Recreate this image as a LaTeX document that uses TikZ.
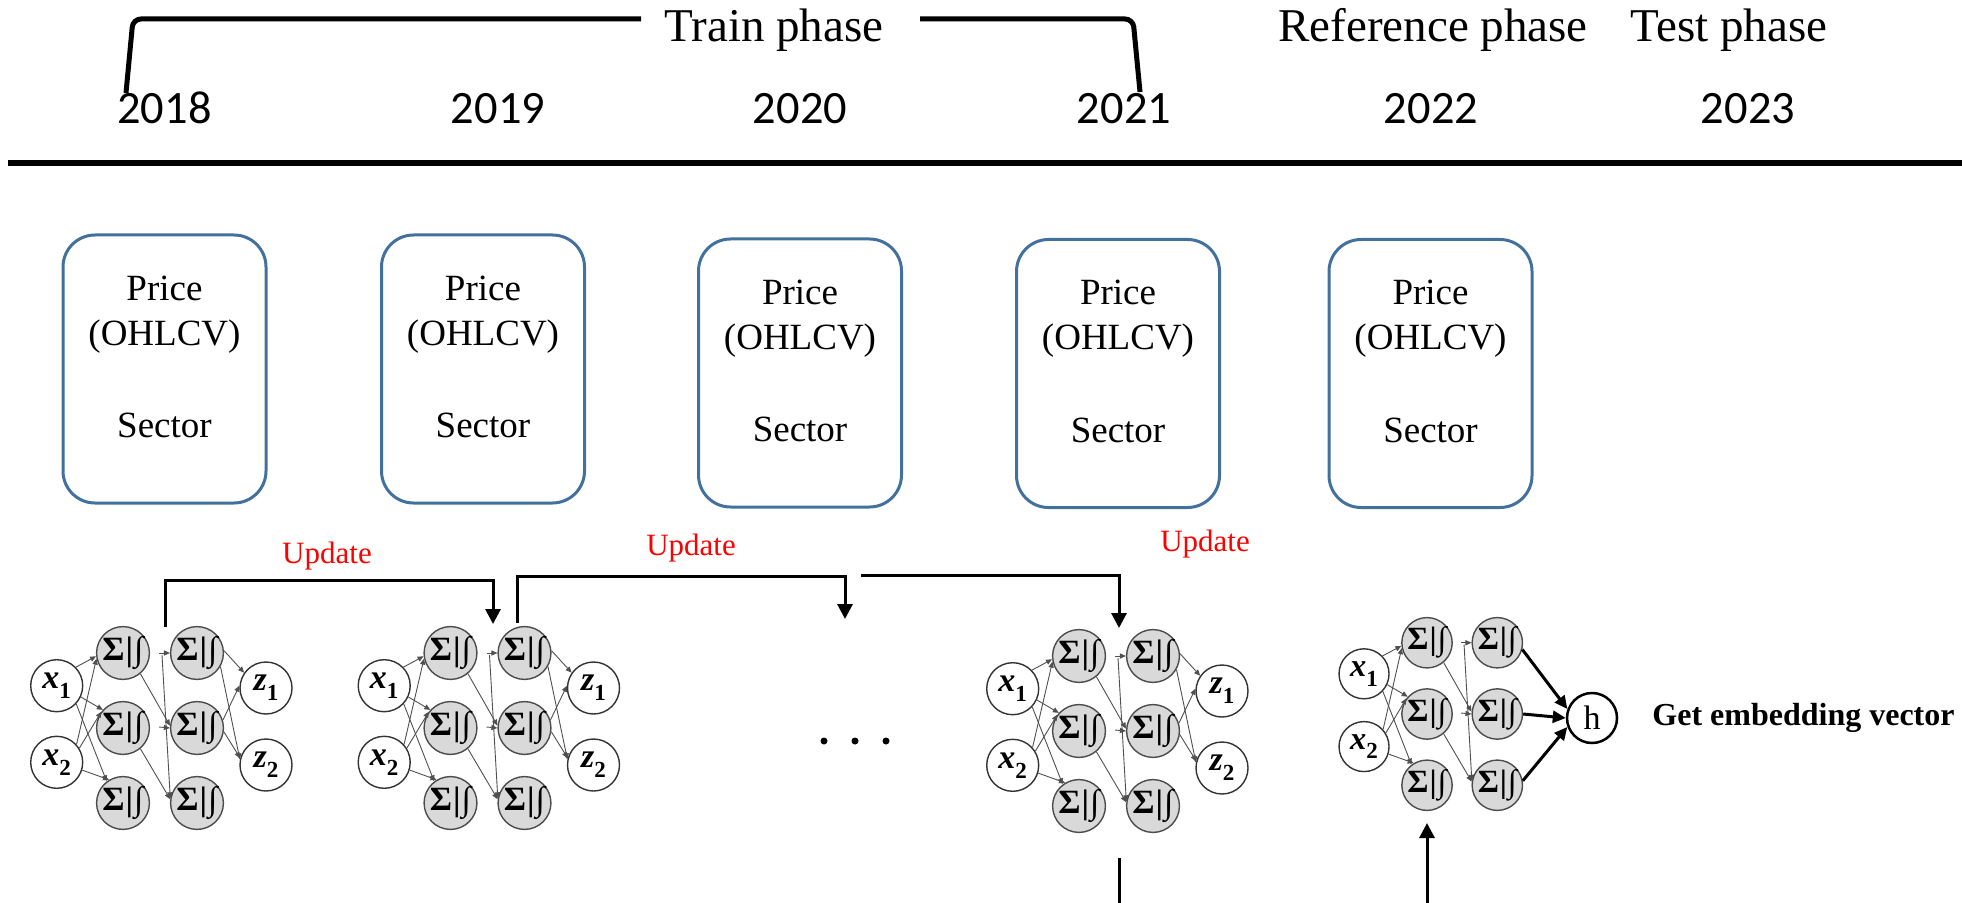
\documentclass[tikz,border=0pt]{standalone}
\usepackage{fontspec}
\setmainfont{Liberation Serif}
\newfontfamily\yearfont{Carlito}
\usetikzlibrary{arrows.meta,calc}
\definecolor{boxblue}{RGB}{65,113,156}
\definecolor{nodegray}{RGB}{217,217,217}
\definecolor{edgegray}{RGB}{80,80,80}
\newcommand\myfs[1]{\fontsize{#1}{#1}\selectfont}
\newcommand\sigint{\bfseries Σ\kern0.03em|\kern0.03em∫}
\newcommand\vlab[2]{\bfseries{\itshape #1}\raisebox{-0.3em}{\myfs{11.5}#2}}

% #1 prefix, #2 x, #3 y (centre of middle hidden node), #4 scale, #5 node style
\newcommand\mynet[5]{%
  \node[nn,#5] (#1x1) at ({#2-#4*66.3},{#3-#4*42.3}) {\vlab{x}{1}};
  \node[nn,#5] (#1x2) at ({#2-#4*66.3},{#3+#4*34.3}) {\vlab{x}{2}};
  \node[hn,#5] (#1a1) at (#2,{#3-#4*75}) {\sigint};
  \node[hn,#5] (#1a2) at (#2,#3) {\sigint};
  \node[hn,#5] (#1a3) at (#2,{#3+#4*75}) {\sigint};
  \node[hn,#5] (#1b1) at ({#2+#4*74},{#3-#4*75}) {\sigint};
  \node[hn,#5] (#1b2) at ({#2+#4*74},#3) {\sigint};
  \node[hn,#5] (#1b3) at ({#2+#4*74},{#3+#4*75}) {\sigint};
  \coordinate (#1sa) at ({#2+#4*36},{#3-#4*75});
  \coordinate (#1sb) at ({#2+#4*36},{#3-#4*1});
  \coordinate (#1va) at ({#2+#4*39},{#3-#4*73});
  \draw[netedge] (#1x1.44) -- (#1a1.187);
  \draw[netedge] (#1x2.42) -- (#1a1.192);
  \draw[netedge] (#1x1.335) -- (#1a2.138);
  \draw[netedge] (#1x2.32) -- (#1a2.143);
  \draw[netedge] (#1x1.317) -- (#1a3.127);
  \draw[netedge] (#1x2.343) -- (#1a3.121);
  \draw[netedge] (#1sa) -- (#1b1.180);
  \draw[netedge] (#1sb) -- (#1b2.180);
  \draw[netedge] (#1va) -- (#1b3.170);
  \draw[netedge] (#1a1.310) -- (#1b2.175);
  \draw[netedge] (#1a2.310) -- (#1b3.172);
}

% output nodes z1, z2
\newcommand\myz[3]{%
  \node[nn,bignet] (#1z1) at ({#2+143},{#3-40}) {\vlab{z}{1}};
  \node[nn,bignet] (#1z2) at ({#2+143},{#3+37}) {\vlab{z}{2}};
  \draw[netedge] (#1b1.5) -- (#1z1.145);
  \draw[netedge] (#1b2.17) -- (#1z1.175);
  \draw[netedge] (#1b1.330) -- (#1z2.168);
  \draw[netedge] (#1b2.352) -- (#1z2.165);
}

\newcommand\boxtext[1]{%
  \node[ptext] (#1p) at ($(#1.north)+(0,67)$) {Price};
  \node[ptext] (#1o) at ($(#1.north)+(0,112)$) {(OHLCV)};
  \node[ptext] (#1s) at ($(#1.north)+(0,204)$) {Sector};}

\begin{document}
\begin{tikzpicture}[x=0.5pt,y=-0.5pt,
  nn/.style={circle,draw=black!80,line width=0.7pt,fill=white,inner sep=0pt},
  hn/.style={circle,draw=black!70,line width=0.7pt,fill=nodegray,inner sep=0pt},
  bignet/.style={minimum size=26pt,font=\myfs{17}},
  smallnet/.style={minimum size=25pt,font=\myfs{16.2}},
  netedge/.style={draw=edgegray,line width=0.45pt,-{Triangle[length=3pt,width=2.6pt]}},
  upd/.style={line width=1.5pt,-{Triangle[length=7.5pt,width=7.5pt]}},
  hout/.style={line width=1.5pt,-{Triangle[length=6.5pt,width=6pt]}},
  pbox/.style={draw=boxblue,line width=1.5pt,rounded corners=16pt,minimum width=101.5pt,minimum height=134pt},
  ptext/.style={font=\myfs{18.5},anchor=base},
  year/.style={font=\yearfont\myfs{23.2},anchor=base},
  phase/.style={font=\myfs{23.5},anchor=base},
  updlbl/.style={font=\myfs{15.5},text=red,anchor=base},
  dotn/.style={circle,fill=black,inner sep=0pt,minimum size=3.5pt},
  bar/.style={line width=2.5pt,rounded corners=4pt}]
\useasboundingbox (0,0) rectangle (1962,903);

% phases
\node[phase] (ptrain) at (774,42) {Train phase};
\node[phase] (pref) at (1433,42) {Reference phase};
\node[phase] (ptest) at (1729,42) {Test phase};
\draw[bar] (126,93) -- (133,19) -- (641,19);
\draw[bar] (920,19) -- (1133,19) -- (1140,92);

% years
\node[year] (y2018) at (164.5,124) {2018};
\node[year] (y2019) at (498,124) {2019};
\node[year] (y2020) at (800,124) {2020};
\node[year] (y2021) at (1124,124) {2021};
\node[year] (y2022) at (1431,124) {2022};
\node[year] (y2023) at (1748,124) {2023};
\draw[line width=2.8pt] (8,163) -- (1962,163);

% data boxes
\node[pbox] (b1) at (164.5,369) {};
\node[pbox] (b2) at (483,369) {};
\node[pbox] (b3) at (800,373) {};
\node[pbox] (b4) at (1118,373.5) {};
\node[pbox] (b5) at (1430.5,373.5) {};
\boxtext{b1}
\boxtext{b2}
\boxtext{b3}
\boxtext{b4}
\boxtext{b5}

% networks
\mynet{A}{123}{728}{1}{bignet}
\myz{A}{123}{728}
\mynet{B}{450.5}{728}{1}{bignet}
\myz{B}{450.5}{728}
\mynet{C}{1079}{731}{1}{bignet}
\myz{C}{1079}{731}
\mynet{R}{1427}{714}{0.95}{smallnet}

% embedding output
\node[circle,draw=black,line width=1.25pt,fill=white,inner sep=0pt,minimum size=25pt,font=\myfs{17}] (rh) at (1592,718) {h};
\draw[hout] (Rb1.345) -- (rh.160);
\draw[hout] (Rb2.0) -- (rh.180);
\draw[hout] (Rb3.10) -- (rh.200);
\node[anchor=base west,inner sep=0pt,font=\bfseries\myfs{16}] (gev) at (1652,725) {Get embedding vector};

% dots
\node[dotn] (d1) at (824,741) {};
\node[dotn] (d2) at (855,741) {};
\node[dotn] (d3) at (886,741) {};

% update arrows
\coordinate (u1s) at (165,627);
\coordinate (u1e) at (493,624);
\draw[upd] (u1s) -- ++(0,-47) -| (u1e);
\coordinate (u2s) at (517,623);
\coordinate (u2e) at (845,619);
\draw[upd] (u2s) -- ++(0,-47) -| (u2e);
\coordinate (u3s) at (861,575);
\coordinate (u3e) at (1119,628);
\draw[upd] (u3s) -| (u3e);
\node[updlbl] (l1) at (327,563) {Update};
\node[updlbl] (l2) at (691,555) {Update};
\node[updlbl] (l3) at (1205,551) {Update};

% bottom connectors
\coordinate (bl1) at (1119,858);
\coordinate (bl2) at (1119,903);
\draw[line width=1.5pt] (bl1) -- (bl2);
\coordinate (ua1) at (1427,903);
\coordinate (ua2) at (1427,823);
\draw[upd] (ua1) -- (ua2);
\end{tikzpicture}
\end{document}
